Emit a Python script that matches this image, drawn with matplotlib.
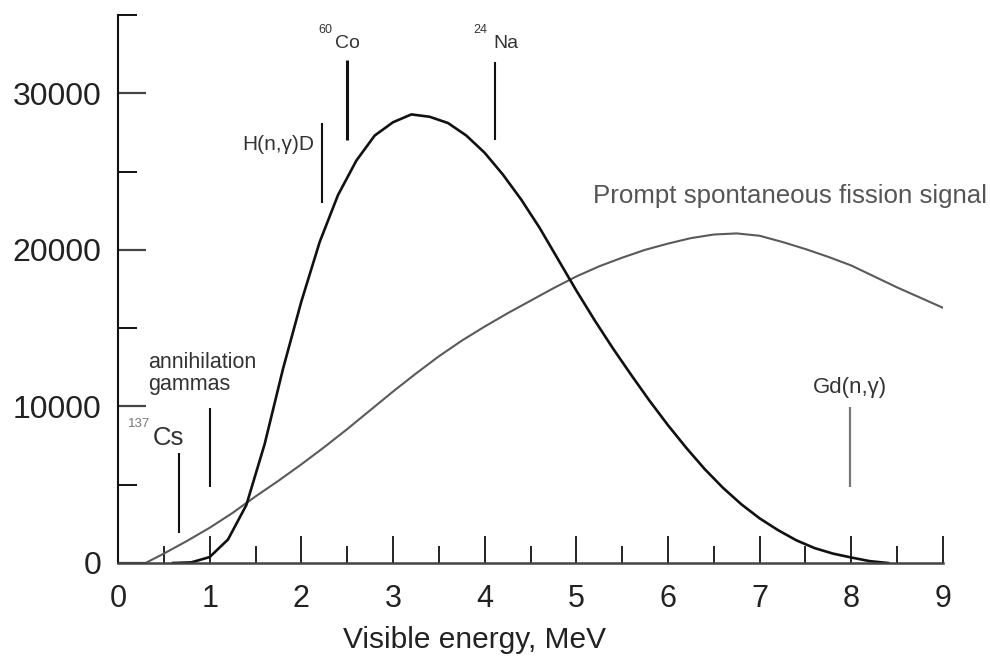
import matplotlib
matplotlib.use("Agg")
import matplotlib.pyplot as plt
from matplotlib.ticker import MultipleLocator

plt.rcParams["font.family"] = ["Liberation Sans", "DejaVu Sans"]

# Neutron-capture / calibration spectrum (black curve)
capture_energy = [0.6, 0.8, 1.0, 1.2, 1.4, 1.6, 1.8, 2.0, 2.2, 2.4, 2.6, 2.8, 3.0,
                  3.2, 3.4, 3.6, 3.8, 4.0, 4.2, 4.4, 4.6, 4.8, 5.0, 5.2, 5.4, 5.6,
                  5.8, 6.0, 6.2, 6.4, 6.6, 6.8, 7.0, 7.2, 7.4, 7.6, 7.8, 8.0, 8.2, 8.4]
capture_counts = [0, 40, 380, 1500, 3700, 7600, 12400, 16700, 20500, 23500, 25700,
                  27300, 28150, 28650, 28500, 28100, 27300, 26200, 24800, 23200,
                  21400, 19400, 17400, 15500, 13700, 12000, 10350, 8800, 7350, 6000,
                  4800, 3750, 2850, 2100, 1450, 950, 600, 350, 120, 0]

# Prompt spontaneous fission spectrum (grey curve)
fission_energy = [0.3, 0.5, 0.75, 1.0, 1.25, 1.5, 1.75, 2.0, 2.25, 2.5, 2.75, 3.0,
                  3.25, 3.5, 3.75, 4.0, 4.25, 4.5, 4.75, 5.0, 5.25, 5.5, 5.75, 6.0,
                  6.25, 6.5, 6.75, 7.0, 7.25, 7.5, 7.75, 8.0, 8.25, 8.5, 8.75, 9.0]
fission_counts = [0, 600, 1400, 2250, 3200, 4250, 5250, 6300, 7400, 8550, 9750, 10950,
                  12100, 13200, 14200, 15100, 15950, 16750, 17550, 18300, 18950, 19500,
                  20000, 20400, 20750, 20980, 21050, 20900, 20500, 20050, 19550, 19000,
                  18300, 17600, 16950, 16300]

# Calibration source markers: energy, bottom and top of the marker bar
marker_energy = [0.665, 1.0, 2.225, 2.5, 4.11, 7.99]
marker_bottom = [1920, 4860, 23010, 27030, 27030, 4860]
marker_top = [7030, 9910, 28120, 32150, 32020, 9970]
marker_color = ["#111111", "#111111", "#111111", "#111111", "#111111", "#777777"]
marker_width = [1.5, 1.5, 1.5, 2.2, 1.5, 1.6]

x_ticks = [0, 1, 2, 3, 4, 5, 6, 7, 8, 9]
y_ticks = [0, 10000, 20000, 30000]

fig = plt.figure(figsize=(9.9, 6.64), dpi=100)
ax = fig.add_axes([118 / 990, 1 - 563 / 664, 825 / 990, 548 / 664])

ax.plot(fission_energy, fission_counts, color="#5a5a5a", lw=1.5, solid_joinstyle="round")
ax.plot(capture_energy, capture_counts, color="#111111", lw=1.9, solid_joinstyle="round")

for e, lo, hi, c, w in zip(marker_energy, marker_bottom, marker_top, marker_color, marker_width):
    ax.plot([e, e], [lo, hi], color=c, lw=w, solid_capstyle="butt")

ax.set_xlim(0, 9)
ax.set_ylim(0, 35000)
ax.set_xticks(x_ticks)
ax.set_yticks(y_ticks)
ax.set_xticklabels([str(v) for v in x_ticks])
ax.set_yticklabels([str(v) for v in y_ticks])
ax.xaxis.set_minor_locator(MultipleLocator(0.5))
ax.yaxis.set_minor_locator(MultipleLocator(5000))

for side in ("top", "right"):
    ax.spines[side].set_visible(False)
ax.spines["left"].set_linewidth(1.5)
ax.spines["left"].set_color("#111111")
ax.spines["bottom"].set_linewidth(1.8)
ax.spines["bottom"].set_color("#444444")

ax.tick_params(axis="x", which="major", direction="in", length=19.5, width=1.4,
               color="#222222", labelsize=22, pad=15, labelcolor="#222222")
ax.tick_params(axis="x", which="minor", direction="in", length=12, width=1.4,
               color="#222222")
ax.tick_params(axis="y", which="major", direction="in", length=20, width=1.6,
               color="#444444", labelsize=23, pad=12, labelcolor="#222222")
ax.tick_params(axis="y", which="minor", direction="in", length=13.5, width=1.4,
               color="#111111")

ax.set_xlabel("Visible energy, MeV", fontsize=21.5, color="#222222", va="baseline")
ax.xaxis.set_label_coords(0.432, -0.155)

# Annotations
txt = "#333333"
ax.text(0.109, 8690, "137", fontsize=9.5, color="#777777", va="baseline", ha="left")
ax.text(0.382, 7540, "Cs", fontsize=18.5, color=txt, va="baseline", ha="left")
ax.text(0.327, 12460, "annihilation", fontsize=15.5, color=txt, va="baseline", ha="left")
ax.text(0.327, 11060, "gammas", fontsize=15.5, color=txt, va="baseline", ha="left")
ax.text(1.353, 26400, "H(n,\u03b3)D", fontsize=15, color=txt, va="baseline", ha="left")
ax.text(2.182, 33870, "60", fontsize=9, color=txt, va="baseline", ha="left")
ax.text(2.367, 32910, "Co", fontsize=14, color=txt, va="baseline", ha="left")
ax.text(3.873, 33870, "24", fontsize=9, color=txt, va="baseline", ha="left")
ax.text(4.091, 32910, "Na", fontsize=14, color=txt, va="baseline", ha="left")
ax.text(5.18, 23000, "Prompt spontaneous fission signal", fontsize=18.6,
        color="#555555", va="baseline", ha="left", clip_on=False)
ax.text(7.58, 10870, "Gd(n,\u03b3)", fontsize=16, color=txt, va="baseline", ha="left")

fig.savefig("out.png", dpi=100)
